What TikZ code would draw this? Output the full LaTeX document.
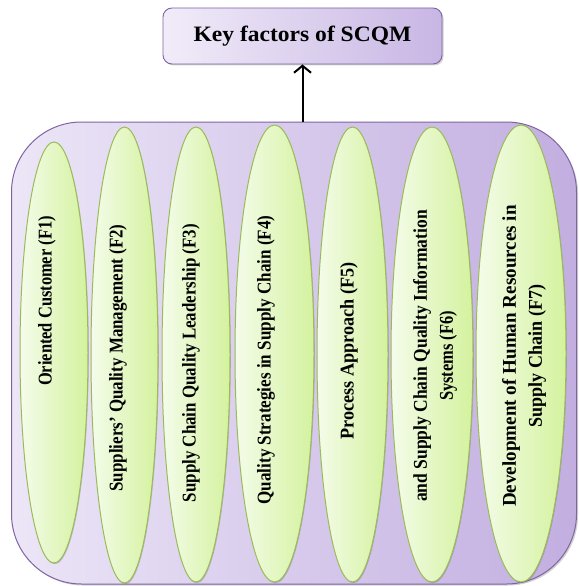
\documentclass[tikz,border=0pt]{standalone}
\usepackage{fontspec}
\setmainfont{Liberation Serif}
\usetikzlibrary{shapes.geometric,arrows.meta,shadows}
\definecolor{boxedge}{HTML}{8064A2}
\definecolor{boxL}{HTML}{ECE6F7}
\definecolor{boxR}{HTML}{C2AEE0}
\definecolor{topL}{HTML}{F1ECF9}
\definecolor{topR}{HTML}{C8B6E4}
\definecolor{ellEdge}{HTML}{9BBB59}
\definecolor{ellL}{HTML}{F4FCEA}
\definecolor{ellR}{HTML}{D4F29E}
\begin{document}
\begin{tikzpicture}[x=1pt,y=-1pt,
  bigbox/.style={rectangle, rounded corners=70pt, draw=boxedge, line width=1pt,
    left color=boxL, right color=boxR, inner sep=0pt,
    drop shadow={shadow xshift=1.5pt, shadow yshift=-1.5pt, opacity=0.3, fill=black!60}},
  topbox/.style={rectangle, rounded corners=9pt, draw=boxedge, line width=0.9pt,
    left color=topL, right color=topR, inner sep=0pt,
    font=\bfseries\fontsize{22}{26}\selectfont,
    drop shadow={shadow xshift=1.5pt, shadow yshift=-1.5pt, opacity=0.3, fill=black!60}},
  factor/.style={ellipse, draw=ellEdge, line width=1pt, left color=ellL, right color=ellR,
    inner sep=0pt,
    drop shadow={shadow xshift=0.8pt, shadow yshift=-1.2pt, opacity=0.35, fill=black!60}},
  ftext/.style={rotate=90, font=\bfseries\fontsize{19.5}{26}\selectfont, align=center,
    inner sep=0pt, text=black},
  uparrow/.style={line width=2pt, -{Straight Barb[length=7pt,width=17pt,line width=2pt]}}
]
\useasboundingbox (0,0) rectangle (578,586);

% container
\node[bigbox, minimum width=565pt, minimum height=462pt] (big) at (294,353) {};

% factor ellipses
\node[factor, minimum width=68pt, minimum height=421pt] (e1) at (54,352.5) {};
\node[factor, minimum width=67pt, minimum height=456pt] (e2) at (124.5,355) {};
\node[factor, minimum width=68pt, minimum height=455pt] (e3) at (196,354.5) {};
\node[factor, minimum width=79pt, minimum height=457pt] (e4) at (274.5,353.5) {};
\node[factor, minimum width=71pt, minimum height=455pt] (e5) at (352.5,354.5) {};
\node[factor, minimum width=82pt, minimum height=455pt] (e6) at (432,354.5) {};
\node[factor, minimum width=90pt, minimum height=457pt] (e7) at (521,353.5) {};

% factor labels
\node[ftext] (t1) at (47,301) {\scalebox{0.843}[1]{Oriented Customer (F1)}};
\node[ftext] (t2) at (118,358) {\scalebox{0.87}[1]{Suppliers’ Quality Management (F2)}};
\node[ftext] (t3) at (191,363) {\scalebox{0.867}[1]{Supply Chain Quality Leadership (F3)}};
\node[ftext] (t4) at (266,360) {\scalebox{0.876}[1]{Quality Strategies in Supply Chain (F4)}};
\node[ftext] (t5) at (349,351) {\scalebox{0.933}[1]{Process Approach (F5)}};
\node[ftext] (t6) at (435,356) {\scalebox{0.897}[1]{and Supply Chain Quality Information}\\\scalebox{0.843}[1]{Systems (F6)}};
\node[ftext] (t7) at (524,356) {\scalebox{0.978}[1]{Development of Human Resources in}\\\scalebox{0.924}[1]{Supply Chain (F7)}};

% title box
\node[topbox, minimum width=279pt, minimum height=56pt] (top) at (302.5,36)
  {\scalebox{1.07}[1]{Key factors of SCQM}};

% connector
\draw[uparrow] (big.north -| top.south) -- (top.south);
\end{tikzpicture}
\end{document}
